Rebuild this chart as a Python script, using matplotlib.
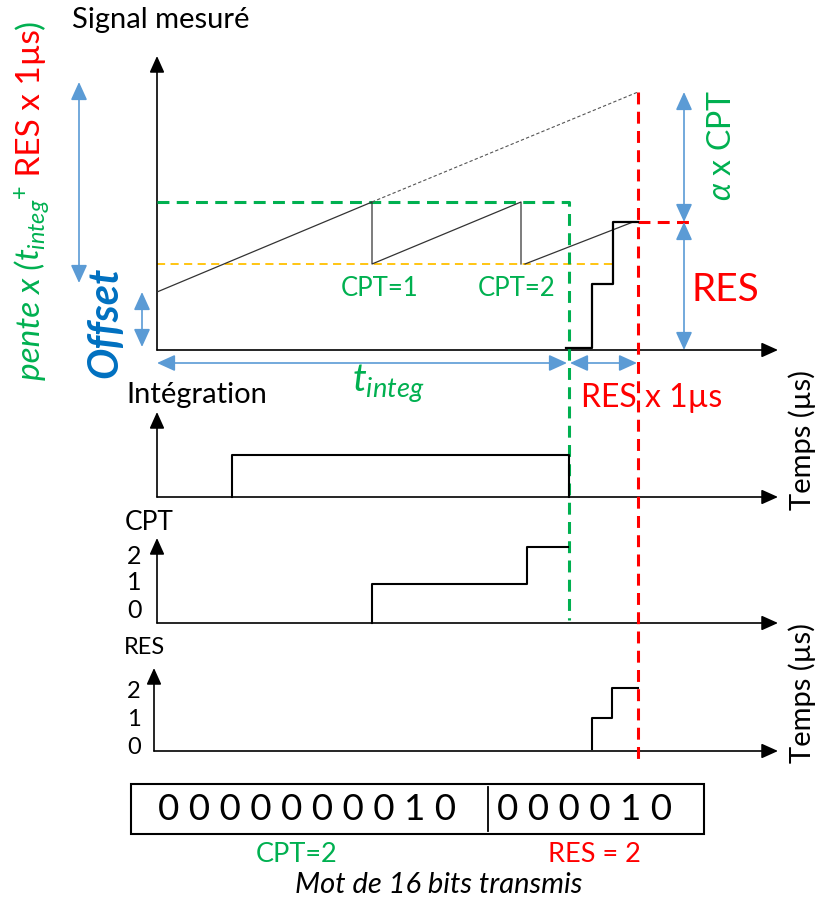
import matplotlib
matplotlib.use("Agg")
import matplotlib.pyplot as plt
from matplotlib.patches import Rectangle

plt.rcParams['font.family'] = ['Lato', 'DejaVu Sans']
plt.rcParams['mathtext.fontset'] = 'custom'
plt.rcParams['mathtext.it'] = 'Lato:italic'
plt.rcParams['mathtext.rm'] = 'Lato'

GREEN = '#00B050'
RED = '#FF0000'
BLUE = '#5B9BD5'
DARKBLUE = '#0070C0'
ORANGE = '#FFC000'

# --- data (drawing units: x = time, y = level, both on the page scale) ---
# measured signal, sawtooth
ramp_t = [157, 372, 372, 521, 521]
ramp_v = [292, 202, 264, 202, 264]
ramp3_t = [525, 633]
ramp3_v = [264, 222]
# extrapolated ramp (no reset)
extrap_t = [372, 638]
extrap_v = [202, 92]
# RES staircase on the signal
stair_t = [566, 592, 592, 613, 613, 638]
stair_v = [348, 348, 284, 284, 222, 222]
# integration window
integ_t = [232, 232, 569, 569]
integ_v = [497, 455, 455, 497]
# CPT counter
cpt_t = [372, 372, 527, 527, 568]
cpt_v = [623, 584, 584, 547, 547]
cpt_ticks = ['2', '1', '0']
cpt_tick_y = [557, 583, 611]
# RES counter
res_t = [592, 592, 612, 612, 638]
res_v = [749, 718, 718, 688, 688]
res_ticks = ['2', '1', '0']
res_tick_y = [692, 720, 748]
# transmitted word
cpt_bits = '0000000010'
res_bits = '000010'

# levels / instants
t0 = 157
t_end_integ = 569
t_end_res = 638
level_thr = 202
level_reset = 264
level_res = 222
level_top = 92

fig = plt.figure(figsize=(8.18, 9), dpi=100)
ax = fig.add_axes([0, 0, 1, 1])
ax.set_xlim(0, 818)
ax.set_ylim(900, 0)
ax.axis('off')


def arrow(x0, y0, x1, y1, color='black', lw=1.2, style='-|>', hl=1.0, hw=0.45, ms=10):
    ax.annotate('', xy=(x1, y1), xytext=(x0, y0),
                arrowprops=dict(arrowstyle=f'{style},head_length={hl},head_width={hw}',
                                color=color, lw=lw, shrinkA=0, shrinkB=0,
                                mutation_scale=ms))


# axes of the four panels
arrow(t0, 350, t0, 56)
arrow(t0, 350, 778, 350)
arrow(t0, 497, t0, 412)
arrow(t0, 497, 778, 497)
arrow(t0, 623, t0, 538)
arrow(t0, 623, 778, 623)
arrow(154, 751, 154, 668)
arrow(154, 751, 778, 751)

# dashed guides
ax.plot([t0, t_end_integ, t_end_integ], [level_thr, level_thr, 620], color=GREEN, lw=2.2,
        ls=(0, (3.9, 2.4)), zorder=3)
ax.plot([t0, 615], [level_reset, level_reset], color=ORANGE, lw=1.3, ls=(0, (4.5, 3)), zorder=2)
ax.plot([t_end_res, t_end_res], [level_top, 760], color=RED, lw=2.2, ls=(0, (3.9, 2.4)), zorder=3)
ax.plot([t_end_res, 690], [level_res, level_res], color=RED, lw=2.2, ls=(0, (3.9, 2.4)), zorder=3)

# signal
ax.plot(ramp_t, ramp_v, color='#333333', lw=0.9, zorder=4)
ax.plot(ramp3_t, ramp3_v, color='#333333', lw=0.9, zorder=4)
ax.plot(extrap_t, extrap_v, color='#555555', lw=0.8, ls=(0, (3, 2)), zorder=4)
ax.plot(stair_t, stair_v, color='black', lw=1.6, zorder=5)

# chronograms
ax.plot(integ_t, integ_v, color='black', lw=1.5, zorder=5)
ax.plot(cpt_t, cpt_v, color='black', lw=1.5, zorder=5)
ax.plot(res_t, res_v, color='black', lw=1.5, zorder=5)
for s, y in zip(cpt_ticks, cpt_tick_y):
    ax.text(134, y, s, fontsize=18, ha='center', va='center')
for s, y in zip(res_ticks, res_tick_y):
    ax.text(134, y, s, fontsize=17, ha='center', va='center')

# blue dimension arrows
arrow(684, 222, 684, level_top, color=BLUE, style='<|-|>', hl=1.1, hw=0.5, ms=10)
arrow(684, 350, 684, 222, color=BLUE, style='<|-|>', hl=1.1, hw=0.5, ms=10)
arrow(79, 283, 79, 82, color=BLUE, style='<|-|>', hl=1.1, hw=0.5, ms=10)
arrow(142, 347, 142, 292, color=BLUE, style='<|-|>', hl=1.1, hw=0.5, ms=10)
arrow(t0, 363, 567, 363, color=BLUE, style='<|-|>', hl=1.1, hw=0.5, ms=10)
arrow(570, 363, 637, 363, color=BLUE, style='<|-|>', hl=1.1, hw=0.5, ms=10)

# labels
ax.text(161, 20, 'Signal mesuré', fontsize=21, ha='center', va='center')
ax.text(197, 395, 'Intégration', fontsize=21, ha='center', va='center')
ax.text(149, 522, 'CPT', fontsize=19, ha='center', va='center')
ax.text(145, 648, 'RES', fontsize=17, ha='center', va='center')
ax.text(380, 289, 'CPT=1', color=GREEN, fontsize=18.5, ha='center', va='center')
ax.text(517, 289, 'CPT=2', color=GREEN, fontsize=18.5, ha='center', va='center')
ax.text(725, 290, 'RES', color=RED, fontsize=28, ha='center', va='center')
ax.text(652, 398, 'RES x 1µs', color=RED, fontsize=23, ha='center', va='center')
ax.text(388, 384, r'$t_{integ}$', color=GREEN, fontsize=28, ha='center', va='center')
ax.text(722, 145, r'$\alpha$ x CPT', color=GREEN, fontsize=23, ha='center', va='center',
        rotation=90)
ax.text(105, 322, 'Offset', color=DARKBLUE, fontsize=30, fontweight='bold', fontstyle='italic',
        ha='center', va='center', rotation=90)
ax.text(802, 440, 'Temps (µs)', fontsize=21, ha='center', va='center', rotation=90)
ax.text(802, 693, 'Temps (µs)', fontsize=21, ha='center', va='center', rotation=90)

# left rotated formula, pieces chained bottom to top
pieces = [('pente x (', GREEN, 'italic'),
          (r'$t_{integ}{}^{+}$', GREEN, 'normal'),
          (' RES x 1µs', RED, 'normal'),
          (')', GREEN, 'normal')]
fig.canvas.draw()
y_cur = 380
inv = ax.transData.inverted()
for s, c, st in pieces:
    t = ax.text(40, y_cur, s, color=c, fontsize=24, fontstyle=st, rotation=90,
                rotation_mode='anchor', ha='left', va='baseline')
    bb = t.get_window_extent(renderer=fig.canvas.get_renderer())
    y_cur = inv.transform((bb.x0, bb.y1))[1]

# transmitted word
ax.add_patch(Rectangle((131, 784), 704 - 131, 50, fill=False, lw=1.5, color='black'))
ax.plot([488, 488], [787, 831], color='black', lw=1.3)
ax.text(307, 809, ' '.join(cpt_bits), fontsize=26.5, ha='center', va='center')
ax.text(585, 809, ' '.join(res_bits), fontsize=26.5, ha='center', va='center')
ax.text(297, 855, 'CPT=2', color=GREEN, fontsize=19.5, ha='center', va='center')
ax.text(594, 855, 'RES = 2', color=RED, fontsize=19.5, ha='center', va='center')
ax.text(439, 885, 'Mot de 16 bits transmis', fontsize=21, fontstyle='italic',
        ha='center', va='center')

fig.savefig('out.png', dpi=100)
